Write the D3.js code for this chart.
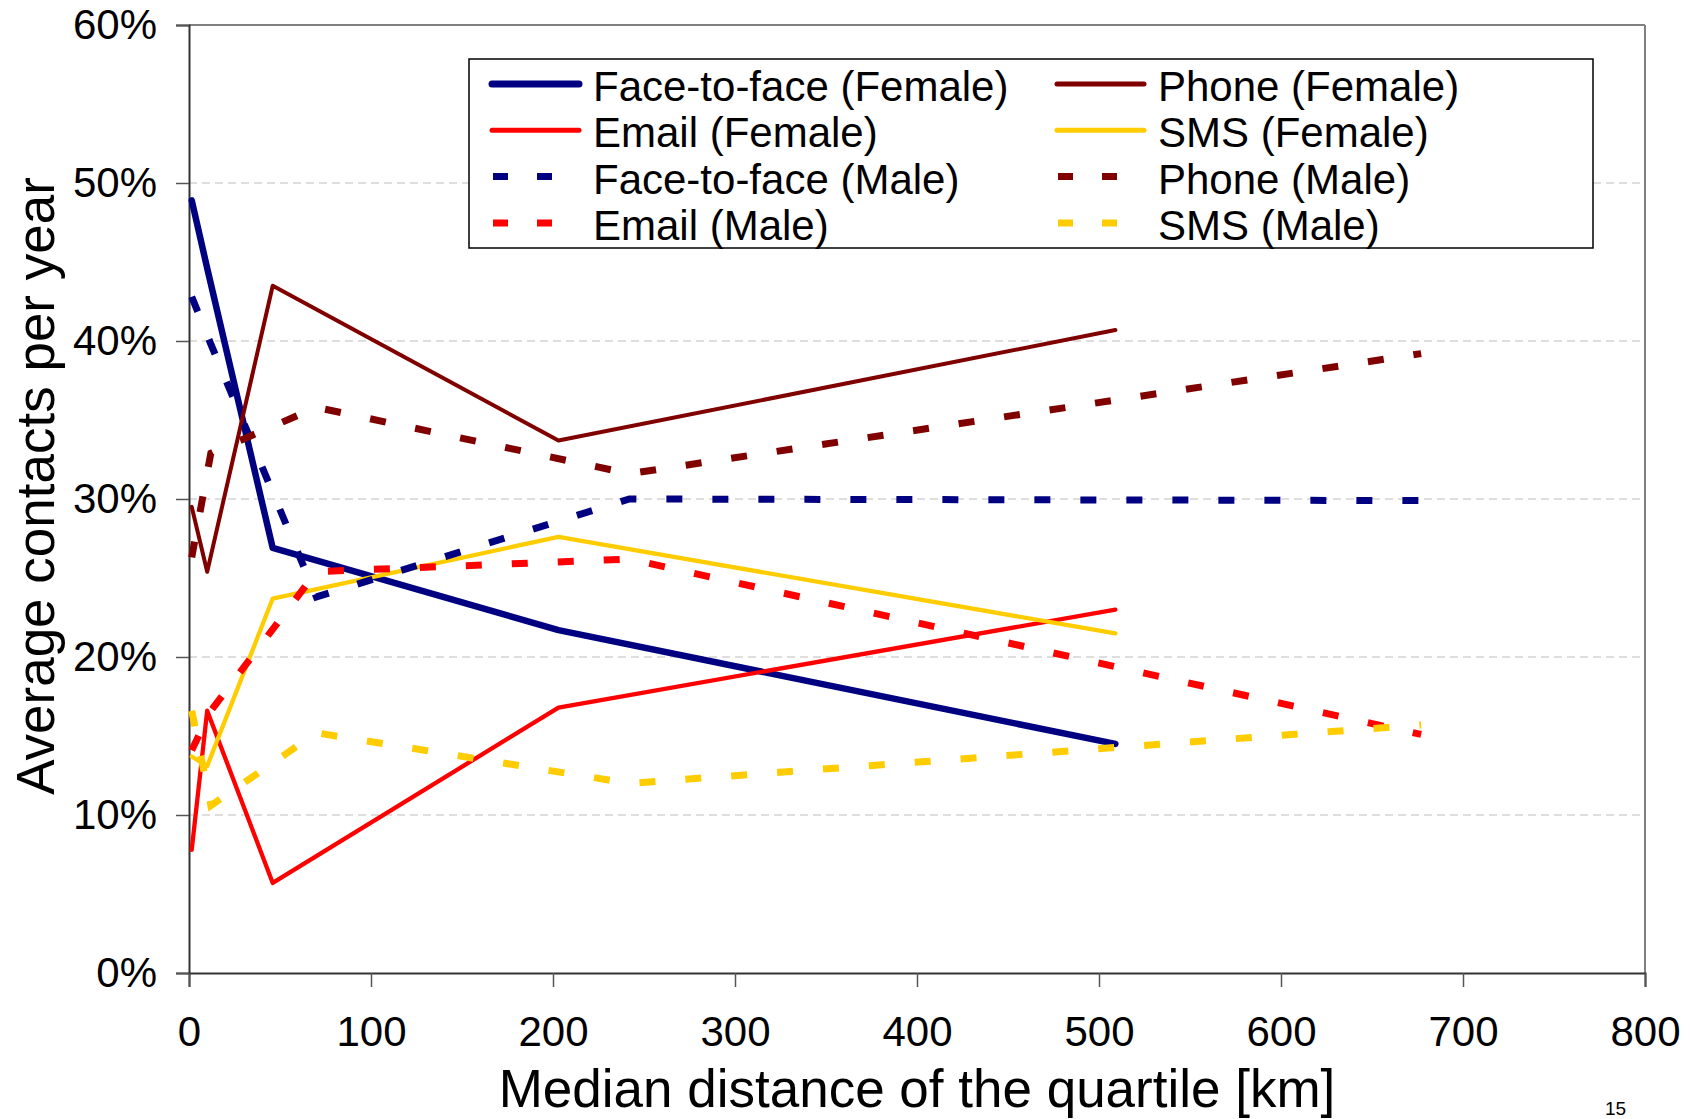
<!DOCTYPE html>
<html>
<head>
<meta charset="utf-8">
<script src="https://cdn.jsdelivr.net/npm/d3@7"></script>
<style>
  html, body { margin: 0; padding: 0; background: #fff; }
  svg { display: block; }
  text { font-family: "Liberation Sans", Arial, Helvetica, sans-serif; fill: #000; }
</style>
</head>
<body>
<svg id="chart" width="1694" height="1119"></svg>
<script>
// ---- data ----
const femaleX = [1.5, 10, 46, 203, 509];   // median distance of quartile [km]
const maleX   = [1.5, 12, 70, 242, 677];

const faceFemale  = [48.9, 44.6, 26.9, 21.7, 14.5];
const phoneFemale = [29.5, 25.4, 43.5, 33.7, 40.7];
const emailFemale = [7.8, 16.6, 5.7, 16.8, 23.0];
const smsFemale   = [13.7, 13.1, 23.7, 27.6, 21.5];

const faceMale  = [42.8, 39.8, 23.8, 30.0, 29.9];
const phoneMale = [26.3, 32.9, 35.8, 31.6, 39.2];
const emailMale = [14.1, 16.6, 25.4, 26.2, 15.1];
const smsMale   = [16.6, 10.6, 15.2, 12.0, 15.7];

const seriesNames = [
  "Face-to-face (Female)", "Phone (Female)", "Email (Female)", "SMS (Female)",
  "Face-to-face (Male)", "Phone (Male)", "Email (Male)", "SMS (Male)"
];
const xTicks = [0, 100, 200, 300, 400, 500, 600, 700, 800];
const yTicks = [0, 10, 20, 30, 40, 50, 60];
const xTitle = "Median distance of the quartile [km]";
const yTitle = "Average contacts per year";
const pageNumber = "15";

// ---- styles ----
const navy = "#000080", maroon = "#800000", red = "#FF0000", gold = "#FFCC00";
const series = [
  { name: seriesNames[0], x: femaleX, y: faceFemale,  color: navy,   width: 6.5, dashed: false },
  { name: seriesNames[1], x: femaleX, y: phoneFemale, color: maroon, width: 4,   dashed: false },
  { name: seriesNames[2], x: femaleX, y: emailFemale, color: red,    width: 4.3, dashed: false },
  { name: seriesNames[3], x: femaleX, y: smsFemale,   color: gold,   width: 4.3, dashed: false },
  { name: seriesNames[4], x: maleX,   y: faceMale,    color: navy,   width: 7,   dashed: true },
  { name: seriesNames[5], x: maleX,   y: phoneMale,   color: maroon, width: 7,   dashed: true },
  { name: seriesNames[6], x: maleX,   y: emailMale,   color: red,    width: 7,   dashed: true },
  { name: seriesNames[7], x: maleX,   y: smsMale,     color: gold,   width: 7,   dashed: true }
];

const svg = d3.select("#chart");
const margin = { left: 189, top: 25, right: 49, bottom: 146 };
const W = 1694, H = 1119;
const iw = W - margin.left - margin.right;
const ih = H - margin.top - margin.bottom;

const x = d3.scaleLinear().domain([0, 800]).range([0, iw]);
const y = d3.scaleLinear().domain([0, 60]).range([ih, 0]);

const g = svg.append("g").attr("transform", `translate(${margin.left},${margin.top})`);

// gridlines
g.append("g")
  .selectAll("line")
  .data(yTicks.filter(d => d > 0 && d < 60))
  .join("line")
  .attr("x1", 0).attr("x2", iw)
  .attr("y1", d => y(d)).attr("y2", d => y(d))
  .attr("stroke", "#d4d4d4")
  .attr("stroke-width", 1.5)
  .attr("stroke-dasharray", "8,5");

// frame (top/right)
g.append("line").attr("x1", 0).attr("x2", iw).attr("y1", 0).attr("y2", 0)
  .attr("stroke", "#808080").attr("stroke-width", 2);
g.append("line").attr("x1", iw).attr("x2", iw).attr("y1", 0).attr("y2", ih)
  .attr("stroke", "#808080").attr("stroke-width", 2);

// axes
const yAxis = g.append("g")
  .call(d3.axisLeft(y).tickValues(yTicks).tickFormat(d => d + "%").tickSize(13).tickPadding(19));
const xAxis = g.append("g").attr("transform", `translate(0,${ih})`)
  .call(d3.axisBottom(x).tickValues(xTicks).tickFormat(d => String(d)).tickSize(14).tickPadding(29));

[yAxis, xAxis].forEach(a => {
  a.attr("font-family", null);
  a.select(".domain").attr("stroke", "#333").attr("stroke-width", 2);
  a.selectAll(".tick line").attr("stroke", "#555").attr("stroke-width", 1.5);
  a.selectAll(".tick text").attr("font-size", 42).attr("fill", "#000")
    .style("font-family", '"Liberation Sans", Arial, sans-serif');
});

// lines
const line = d3.line().x(d => x(d[0])).y(d => y(d[1]));
const plot = g.append("g");
series.forEach(s => {
  const pts = s.x.map((xv, i) => [xv, s.y[i]]);
  plot.append("path")
    .datum(pts)
    .attr("d", line)
    .attr("fill", "none")
    .attr("stroke", s.color)
    .attr("stroke-width", s.width)
    .attr("stroke-linejoin", s.dashed ? "miter" : "round")
    .attr("stroke-linecap", s.dashed ? "butt" : "round")
    .attr("stroke-dasharray", s.dashed ? "16,30" : null);
});

// legend
const legend = svg.append("g").attr("transform", "translate(469,59)");
legend.append("rect")
  .attr("x", 0).attr("y", 0).attr("width", 1124).attr("height", 189)
  .attr("fill", "#fff").attr("stroke", "#000").attr("stroke-width", 1.5);

const colX = [20, 585];   // sample start in legend coordinates
const rowY0 = 25, rowStep = 46.3;
series.forEach((s, k) => {
  const col = k % 2, row = Math.floor(k / 2);
  const sx = colX[col], sy = rowY0 + row * rowStep;
  if (s.dashed) {
    legend.append("line")
      .attr("x1", sx + 4).attr("x2", sx + 63)
      .attr("y1", sy).attr("y2", sy)
      .attr("stroke", s.color).attr("stroke-width", 7)
      .attr("stroke-dasharray", "15,29");
  } else {
    legend.append("line")
      .attr("x1", sx + 3).attr("x2", sx + 90)
      .attr("y1", sy).attr("y2", sy)
      .attr("stroke", s.color).attr("stroke-width", k === 0 ? 7 : 5)
      .attr("stroke-linecap", "round");
  }
  legend.append("text")
    .attr("x", sx + 104).attr("y", sy + 17)
    .attr("font-size", 42)
    .text(s.name);
});

// axis titles
svg.append("text")
  .attr("x", margin.left + iw / 2).attr("y", 1107)
  .attr("text-anchor", "middle").attr("font-size", 53)
  .text(xTitle);

svg.append("text")
  .attr("transform", "translate(54,486) rotate(-90)")
  .attr("text-anchor", "middle").attr("font-size", 53)
  .text(yTitle);

svg.append("text")
  .attr("x", 1605).attr("y", 1115)
  .attr("font-size", 19)
  .text(pageNumber);
</script>
</body>
</html>
